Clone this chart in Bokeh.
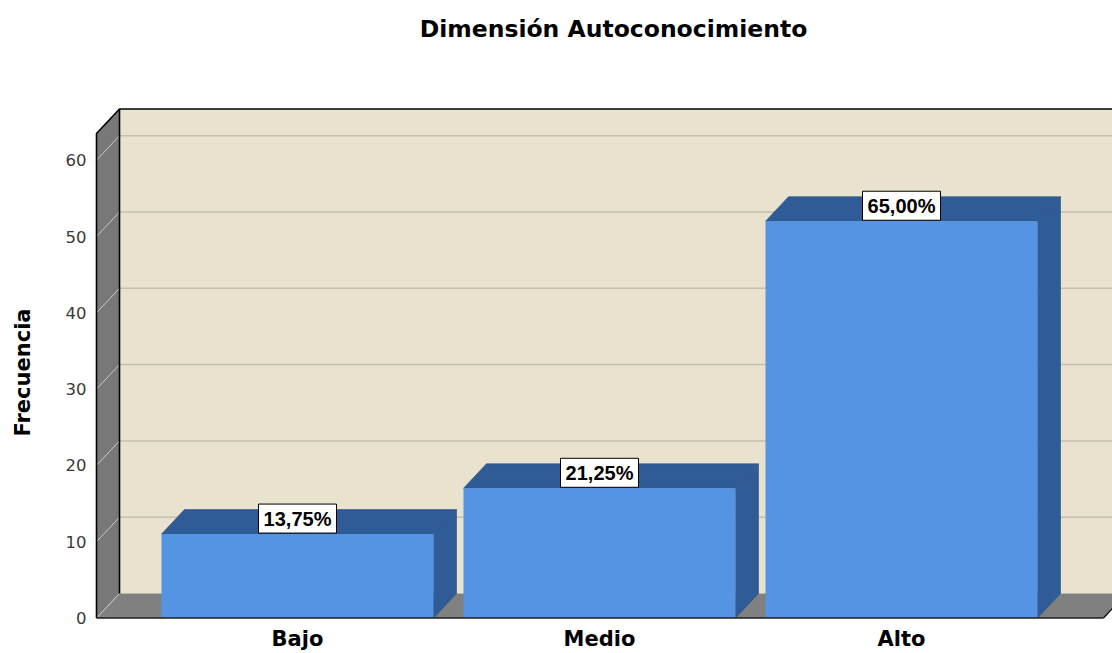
from bokeh.plotting import figure
from bokeh.layouts import column
from bokeh.models import Range1d, FixedTicker, ColumnDataSource
from bokeh.core.properties import value
from bokeh.embed import file_html
from bokeh.resources import INLINE

# ---------------- data ----------------
categories = ["Bajo", "Medio", "Alto"]
frequencies = [11, 17, 52]
percent_labels = ["13,75%", "21,25%", "65,00%"]
y_ticks = [0, 10, 20, 30, 40, 50, 60]
chart_title = "Dimensión Autoconocimiento"
y_axis_title = "Frecuencia"

# ---------------- layout / style constants (page pixels) ----------------
PAGE_W, PAGE_H = 1112, 653
TITLE_H = 91                   # height of the title strip
FRAME_L = 92                   # left edge of the plotting frame
PX_PER_CAT = 302.0             # pixels between category centres
PX_PER_UNIT = 7.63             # pixels per frequency unit
CAT0_PX = 297.0                # page x of first category centre
ZERO_PX = 617.5                # page y of value 0 (front face)


def sx_to_x(px):
    return (px - CAT0_PX) / PX_PER_CAT


def sy_to_y(py):
    return (ZERO_PX - py) / PX_PER_UNIT


DX = 23.0 / PX_PER_CAT          # 3D depth, horizontal
DY = 24.5 / PX_PER_UNIT         # 3D depth, vertical
BAR_W = 272.0 / PX_PER_CAT
WALL_X = sx_to_x(96)            # front edge of left wall
WALL_TOP = 63.5                 # top of the walls (front value)
FLOOR_XR = sx_to_x(1103)
BACK_XR = sx_to_x(PAGE_W + 60)

BEIGE = "#e9e2cf"
GRID_BACK = "#c4bfb0"
GRID_SIDE = "#c9c9c9"
WALL_GRAY = "#787878"
FLOOR_GRAY = "#808080"
BAR_FRONT = "#5494e2"
BAR_DARK = "#2f5c96"

# ---------------- title strip ----------------
tf = figure(width=PAGE_W, height=TITLE_H,
            x_range=Range1d(0, PAGE_W), y_range=Range1d(TITLE_H, 0),
            output_backend="svg", toolbar_location=None,
            x_axis_location=None, y_axis_location=None, min_border=0,
            background_fill_color="white", border_fill_color="white",
            outline_line_color=None)
tf.grid.visible = False
tf.text(x=[568], y=[28], text=[chart_title],
        text_font=value("DejaVu Sans"), text_font_style="bold",
        text_font_size=value("23.5px"), text_align="center",
        text_baseline="middle", text_color="black")

# ---------------- main chart ----------------
p = figure(width=PAGE_W, height=PAGE_H - TITLE_H,
           x_range=Range1d(sx_to_x(FRAME_L), sx_to_x(PAGE_W)),
           y_range=Range1d(sy_to_y(PAGE_H), sy_to_y(TITLE_H)),
           output_backend="svg", toolbar_location=None,
           x_axis_location=None, y_axis_location="left",
           min_border_left=FRAME_L, min_border_right=0,
           min_border_top=0, min_border_bottom=0,
           background_fill_color="white", border_fill_color="white",
           outline_line_color=None)
p.grid.visible = False

ax = p.yaxis[0]
ax.ticker = FixedTicker(ticks=y_ticks)
ax.axis_line_color = None
ax.major_tick_line_color = None
ax.minor_tick_line_color = None
ax.major_tick_out = 0
ax.major_tick_in = 0
ax.minor_tick_out = 0
ax.minor_tick_in = 0
ax.major_label_standoff = 6
ax.major_label_text_font = "DejaVu Sans"
ax.major_label_text_font_size = "16.5px"
ax.major_label_text_color = "#3a3a3a"
ax.axis_label = y_axis_title
ax.axis_label_text_font = "DejaVu Sans"
ax.axis_label_text_font_style = "bold"
ax.axis_label_text_font_size = "21px"
ax.axis_label_text_color = "black"
ax.axis_label_standoff = 28

# walls
p.quad(left=[WALL_X + DX], right=[BACK_XR], bottom=[DY], top=[WALL_TOP + DY],
       fill_color=BEIGE, line_color=None)
grid_vals = [t for t in y_ticks if t > 0]
p.segment(x0=[WALL_X + DX] * len(grid_vals), y0=[t + DY for t in grid_vals],
          x1=[BACK_XR] * len(grid_vals), y1=[t + DY for t in grid_vals],
          line_color=GRID_BACK, line_width=1.5)
p.patch([WALL_X, FLOOR_XR, FLOOR_XR + DX, WALL_X + DX], [0, 0, DY, DY],
        fill_color=FLOOR_GRAY, line_color=None)
p.patch([WALL_X, WALL_X, WALL_X + DX, WALL_X + DX], [0, WALL_TOP, WALL_TOP + DY, DY],
        fill_color=WALL_GRAY, line_color=None)
p.segment(x0=[WALL_X] * len(y_ticks), y0=y_ticks,
          x1=[WALL_X + DX] * len(y_ticks), y1=[t + DY for t in y_ticks],
          line_color=GRID_SIDE, line_width=1)
p.line([WALL_X, WALL_X, WALL_X + DX, BACK_XR], [0, WALL_TOP, WALL_TOP + DY, WALL_TOP + DY],
       line_color="black", line_width=1.6)
p.line([WALL_X + DX, WALL_X + DX], [DY, WALL_TOP + DY], line_color="black", line_width=1.6)
p.line([FLOOR_XR, FLOOR_XR + DX], [0, DY], line_color="black", line_width=1.2)

# bars
idx = list(range(len(categories)))
xs_top, ys_top, xs_side, ys_side = [], [], [], []
for i, v in zip(idx, frequencies):
    l, r = i - BAR_W / 2, i + BAR_W / 2
    xs_top.append([l, r, r + DX, l + DX])
    ys_top.append([v, v, v + DY, v + DY])
    xs_side.append([r, r + DX, r + DX, r])
    ys_side.append([0, DY, v + DY, v])
p.patches(xs_side, ys_side, fill_color=BAR_DARK, line_color="#284f82", line_width=0.6)
p.patches(xs_top, ys_top, fill_color=BAR_DARK, line_color="#284f82", line_width=0.6)
p.quad(left=[i - BAR_W / 2 for i in idx], right=[i + BAR_W / 2 for i in idx],
       bottom=[0] * len(idx), top=frequencies,
       fill_color=BAR_FRONT, line_color=None)
p.line([WALL_X, FLOOR_XR], [0, 0], line_color="#1e1e1e", line_width=1.5)

# value labels
lab_src = ColumnDataSource(dict(
    x=idx,
    y=[v + 15.5 / PX_PER_UNIT for v in frequencies],
    text=percent_labels))
p.rect(x="x", y="y", width=78, height=29, width_units="screen", height_units="screen",
       fill_color="white", line_color="black", line_width=1, source=lab_src)
p.text(x="x", y="y", text="text", source=lab_src,
       text_font=value("Liberation Sans"), text_font_style="bold",
       text_font_size=value("20px"), text_align="center", text_baseline="middle",
       text_color="black")

# category labels
cat_src = ColumnDataSource(dict(x=idx, y=[sy_to_y(638)] * len(idx), text=categories))
p.text(x="x", y="y", text="text", source=cat_src,
       text_font=value("DejaVu Sans"), text_font_style="bold",
       text_font_size=value("21px"), text_align="center",
       text_baseline="middle", text_color="black")

layout = column(tf, p, spacing=0)
open("out.html", "w").write(file_html(layout, INLINE))
